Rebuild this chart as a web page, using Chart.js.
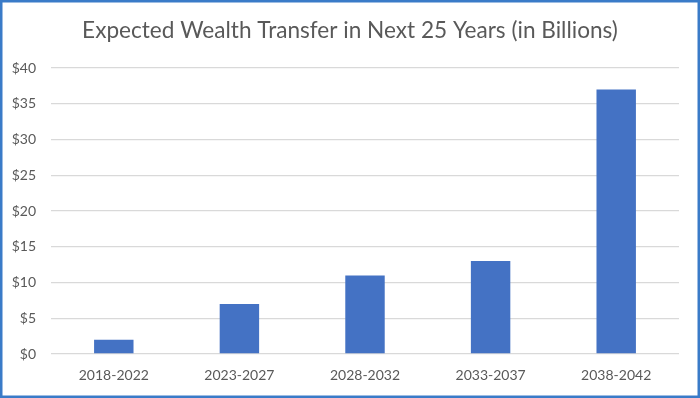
<!DOCTYPE html>
<html>
<head>
<meta charset="utf-8">
<script src="https://cdn.jsdelivr.net/npm/chart.js@4/dist/chart.umd.min.js"></script>
<style>
html,body{margin:0;padding:0;background:#fff;}
#wrap{width:700px;height:398px;position:relative;}
</style>
</head>
<body>
<div id="wrap"><canvas id="c" width="700" height="398"></canvas></div>
<script>
const categories = ["2018-2022", "2023-2027", "2028-2032", "2033-2037", "2038-2042"];
const wealthTransfer = [2, 7, 11, 13, 37];
const yTicks = [0, 5, 10, 15, 20, 25, 30, 35, 40];
const chartTitle = "Expected Wealth Transfer in Next 25 Years (in Billions)";

const borderPlugin = {
  id: 'frameBorder',
  afterDraw(chart) {
    const ctx = chart.ctx;
    ctx.save();
    ctx.strokeStyle = '#3a7bc8';
    ctx.lineWidth = 2.5;
    ctx.strokeRect(1.25, 1.25, chart.width - 2.5, chart.height - 2.5);
    ctx.restore();
  }
};

new Chart(document.getElementById('c'), {
  type: 'bar',
  data: {
    labels: categories,
    datasets: [{
      data: wealthTransfer,
      backgroundColor: '#4472c4',
      borderWidth: 0,
      categoryPercentage: 1,
      barPercentage: 0.314
    }]
  },
  options: {
    responsive: false,
    animation: false,
    devicePixelRatio: 1,
    layout: { padding: 0 },
    plugins: {
      legend: { display: false },
      tooltip: { enabled: false },
      title: {
        display: true,
        text: chartTitle,
        color: '#595959',
        font: { family: 'Lato', size: 22.6, weight: 'normal' },
        padding: { top: 17, bottom: 24 }
      }
    },
    scales: {
      x: {
        grid: { display: false },
        border: { display: false },
        ticks: {
          color: '#595959',
          font: { family: 'Lato', size: 14 },
          padding: 5,
          maxRotation: 0
        },
        afterFit(scale) { scale.height = 44; }
      },
      y: {
        min: 0,
        max: 40,
        afterBuildTicks(scale) { scale.ticks = yTicks.map(v => ({ value: v })); },
        grid: { color: '#d9d9d9', lineWidth: 1.3, drawTicks: false },
        border: { display: false },
        ticks: {
          color: '#595959',
          font: { family: 'Lato', size: 14 },
          padding: 15,
          callback: v => '$' + v
        },
        afterFit(scale) { scale.width = 51; }
      },
      yRightSpace: {
        position: 'right',
        display: true,
        min: 0,
        max: 40,
        grid: { display: false, drawTicks: false },
        border: { display: false },
        ticks: { display: false },
        afterFit(scale) { scale.width = 21; }
      }
    }
  },
  plugins: [borderPlugin]
});
</script>
</body>
</html>
